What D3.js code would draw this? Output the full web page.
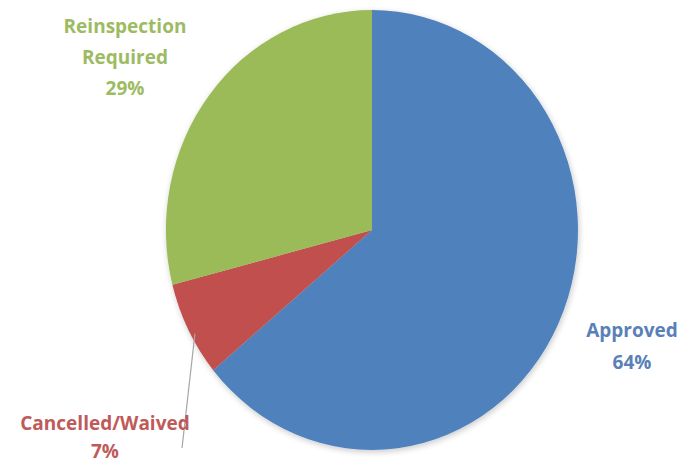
<!DOCTYPE html>
<html>
<head>
<meta charset="utf-8">
<script src="https://cdnjs.cloudflare.com/ajax/libs/d3/7.8.5/d3.min.js"></script>
<style>
  body { margin: 0; background: #fff; }
  text { font-family: "Open Sans", sans-serif; font-weight: bold; }
</style>
</head>
<body>
<div id="chart"></div>
<script>
// data
const categories = ["Approved", "Cancelled/Waived", "Reinspection Required"];
const values = [64, 7, 29];
const colors = ["#4f81bd", "#c0504d", "#9bbb59"];
const textColors = ["#5a80b8", "#c05a5a", "#9dbb62"];

const width = 687, height = 464;
const cx = 372, cy = 230;
const rx = 206, ry = 220;

const svg = d3.select("#chart").append("svg")
    .attr("width", width)
    .attr("height", height);

const defs = svg.append("defs");
const shadow = defs.append("filter").attr("id", "soft")
    .attr("filterUnits", "userSpaceOnUse")
    .attr("x", 0).attr("y", 0).attr("width", width).attr("height", height);
shadow.append("feGaussianBlur").attr("in", "SourceAlpha").attr("stdDeviation", 3);
shadow.append("feOffset").attr("dx", 1).attr("dy", 2).attr("result", "b");
shadow.append("feComponentTransfer").append("feFuncA").attr("type", "linear").attr("slope", 0.22);
const merge = shadow.append("feMerge");
merge.append("feMergeNode");
merge.append("feMergeNode").attr("in", "SourceGraphic");

const pie = d3.pie().sort(null).value(d => d);
const arcs = pie(values);

// unit-radius arc, stretched into the ellipse of the picture
const arc = d3.arc().innerRadius(0).outerRadius(1);

const outer = svg.append("g").attr("filter", "url(#soft)");
const g = outer.append("g")
    .attr("transform", `translate(${cx},${cy}) scale(${rx},${ry})`);

g.selectAll("path")
    .data(arcs)
    .enter().append("path")
    .attr("d", arc)
    .attr("fill", (d, i) => colors[i]);

// leader line for the small slice
const small = arcs[1];
const mid = (small.startAngle + small.endAngle) / 2 - 0.03;
const px = cx + Math.sin(mid) * rx * 0.98;
const py = cy - Math.cos(mid) * ry * 0.98;
svg.append("line")
    .attr("x1", px).attr("y1", py)
    .attr("x2", 182).attr("y2", 448)
    .attr("stroke", "#a6a6a6")
    .attr("stroke-width", 1.2);

// labels
const labels = [
  { lines: ["Approved", "64%"], x: 632, y: 330, dy: 32 },
  { lines: ["Cancelled/Waived", "7%"], x: 105, y: 423, dy: 28 },
  { lines: ["Reinspection", "Required", "29%"], x: 125, y: 26, dy: 31 }
];

labels.forEach((l, i) => {
  const t = svg.append("text")
      .attr("text-anchor", "middle")
      .attr("fill", textColors[i])
      .style("font-size", "19px");
  l.lines.forEach((s, j) => {
    t.append("tspan")
      .attr("x", l.x)
      .attr("y", l.y + j * l.dy)
      .attr("dy", "0.35em")
      .text(j === l.lines.length - 1 ? values[i] + "%" : s);
  });
});
</script>
</body>
</html>
